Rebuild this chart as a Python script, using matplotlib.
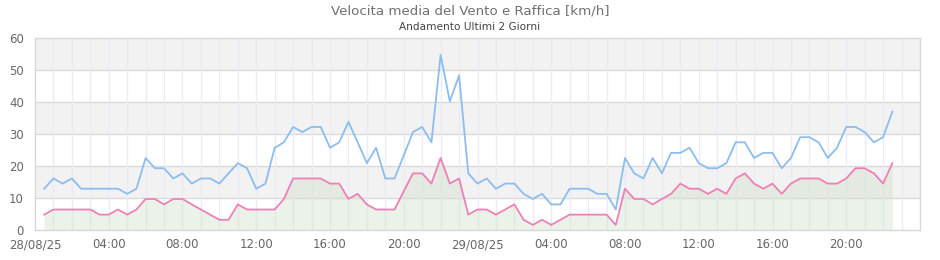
import pandas as pd
import matplotlib.pyplot as plt
import matplotlib.dates as mdates

# Raffica (blu) e velocita media (rosa), una misura ogni 30 minuti dalle 00:30 del 28/08
raffica = [12.9, 16.1, 14.5, 16.1, 12.9, 12.9, 12.9, 12.9, 12.9, 11.3,
           12.9, 22.5, 19.3, 19.3, 16.1, 17.7, 14.5, 16.1, 16.1, 14.5,
           17.7, 20.9, 19.3, 12.9, 14.5, 25.7, 27.4, 32.2, 30.6, 32.2,
           32.2, 25.7, 27.4, 33.8, 27.4, 20.9, 25.7, 16.1, 16.1, 23.3,
           30.6, 32.2, 27.4, 54.7, 40.2, 48.3, 17.7, 14.5, 16.1, 12.9,
           14.5, 14.5, 11.3, 9.7, 11.3, 8.0, 8.0, 12.9, 12.9, 12.9,
           11.3, 11.3, 6.4, 22.5, 17.7, 16.1, 22.5, 17.7, 24.1, 24.1,
           25.7, 20.9, 19.3, 19.3, 20.9, 27.4, 27.4, 22.5, 24.1, 24.1,
           19.3, 22.5, 29.0, 29.0, 27.4, 22.5, 25.7, 32.2, 32.2, 30.6,
           27.4, 29.0, 37.0]
media = [4.8, 6.4, 6.4, 6.4, 6.4, 6.4, 4.8, 4.8, 6.4, 4.8,
         6.4, 9.7, 9.7, 8.0, 9.7, 9.7, 8.0, 6.4, 4.8, 3.2,
         3.2, 8.0, 6.4, 6.4, 6.4, 6.4, 9.7, 16.1, 16.1, 16.1,
         16.1, 14.5, 14.5, 9.7, 11.3, 8.0, 6.4, 6.4, 6.4, 12.1,
         17.7, 17.7, 14.5, 22.5, 14.5, 16.1, 4.8, 6.4, 6.4, 4.8,
         6.4, 8.0, 3.2, 1.6, 3.2, 1.6, 3.2, 4.8, 4.8, 4.8,
         4.8, 4.8, 1.6, 12.9, 9.7, 9.7, 8.0, 9.7, 11.3, 14.5,
         12.9, 12.9, 11.3, 12.9, 11.3, 16.1, 17.7, 14.5, 12.9, 14.5,
         11.3, 14.5, 16.1, 16.1, 16.1, 14.5, 14.5, 16.1, 19.3, 19.3,
         17.7, 14.5, 20.9]
orari = pd.date_range("2025-08-28 00:30", periods=len(media), freq="30min")

inizio = pd.Timestamp("2025-08-28 00:00")
fine = pd.Timestamp("2025-08-30 00:00")
colore_testo = "#666666"

fig = plt.figure(figsize=(9.4, 2.6), dpi=100)
ax = fig.add_axes([35 / 940, 1 - 230 / 260, 885 / 940, 192 / 260])

# bande orizzontali alternate
for y0 in range(10, 60, 20):
    ax.axhspan(y0, y0 + 10, color="#f2f2f2", zorder=0, lw=0)
for y in range(10, 60, 10):
    ax.axhline(y, color="#dadada", lw=1, zorder=1)

# griglia verticale ogni ora
for h in pd.date_range(inizio, fine, freq="1h")[1:-1]:
    ax.axvline(h, color="#ebebf7", lw=1, zorder=1)

ax.fill_between(orari, media, 0, color="#cfe0c8", alpha=0.4, lw=0, zorder=2)
ax.plot(orari, raffica, color="#8cbdf0", lw=1.3, zorder=3)
ax.plot(orari, media, color="#ee80b6", lw=1.3, zorder=3)

ax.set_xlim(inizio, fine)
ax.set_ylim(0, 60)
ax.set_yticks(range(0, 61, 10))
ax.set_xticks(pd.date_range(inizio, fine, freq="4h")[:-1])


def etichetta(x, pos):
    d = mdates.num2date(x)
    if d.hour == 0:
        return d.strftime("%d/%m/%y")
    return d.strftime("%H:%M")


ax.xaxis.set_major_formatter(plt.FuncFormatter(etichetta))
ax.tick_params(axis="both", length=0, labelsize=8.5, colors=colore_testo)
ax.tick_params(axis="x", pad=6)
ax.tick_params(axis="y", pad=8)

for s in ax.spines.values():
    s.set_color("#d8d8d8")
    s.set_linewidth(1)

fig.text(0.5, 1 - 11 / 260, "Velocita media del Vento e Raffica [km/h]",
         ha="center", va="center", fontsize=9.6, color="#707070")
fig.text(0.5, 1 - 27 / 260, "Andamento Ultimi 2 Giorni",
         ha="center", va="center", fontsize=7.6, color="#444444")

fig.savefig("out.png", dpi=100)
